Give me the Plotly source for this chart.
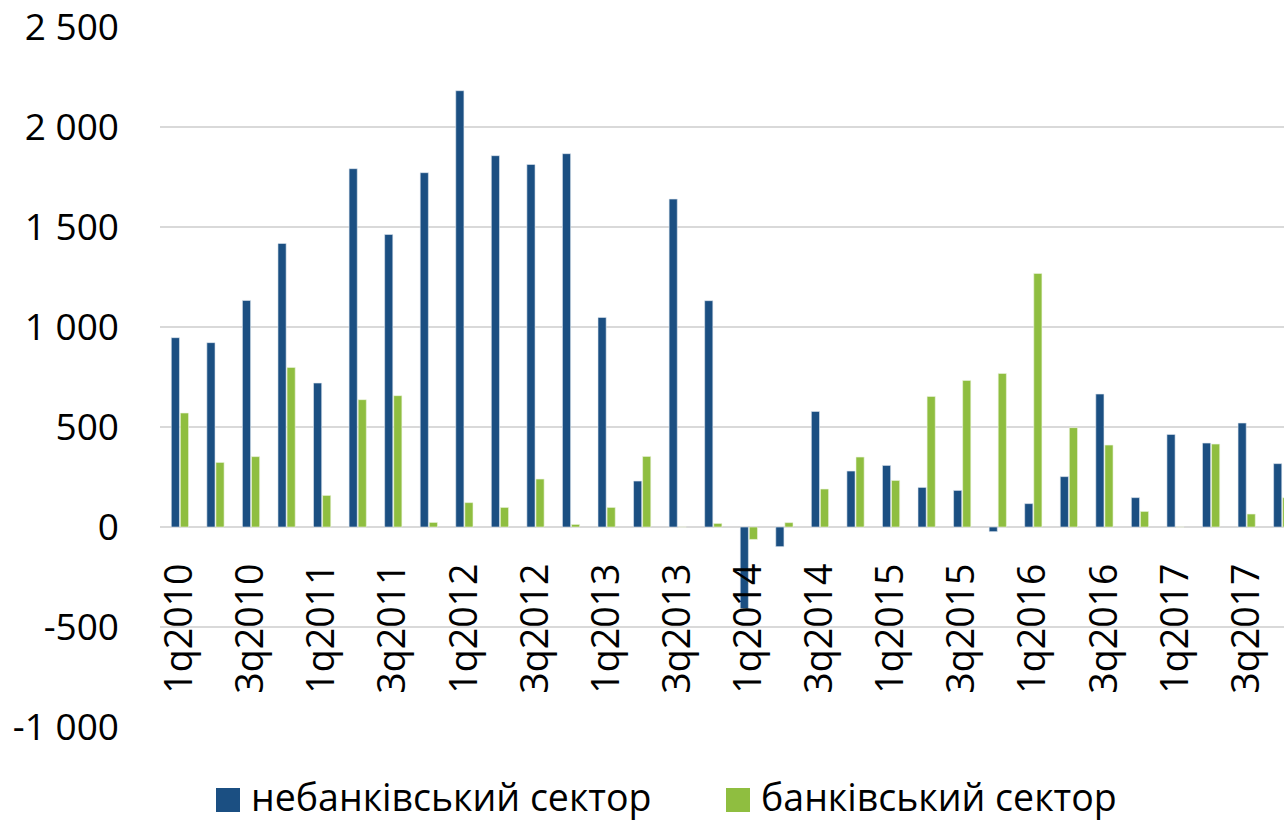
import plotly.graph_objects as go

categories = [
    "1q2010", "2q2010", "3q2010", "4q2010",
    "1q2011", "2q2011", "3q2011", "4q2011",
    "1q2012", "2q2012", "3q2012", "4q2012",
    "1q2013", "2q2013", "3q2013", "4q2013",
    "1q2014", "2q2014", "3q2014", "4q2014",
    "1q2015", "2q2015", "3q2015", "4q2015",
    "1q2016", "2q2016", "3q2016", "4q2016",
    "1q2017", "2q2017", "3q2017", "4q2017",
]
nonbank = [947, 922, 1133, 1418, 720, 1792, 1463, 1772,
           2182, 1857, 1813, 1867, 1048, 230, 1640, 1132,
           -408, -98, 578, 280, 308, 198, 183, -23,
           117, 252, 665, 147, 463, 420, 520, 317]
bank = [570, 323, 352, 798, 158, 637, 657, 23,
        122, 98, 240, 13, 98, 353, 0, 18,
        -62, 22, 190, 350, 233, 653, 733, 768,
        1268, 497, 410, 78, 0, 415, 65, 147]

series_names = ["небанківський сектор", "банківський сектор"]
y_tickvals = [-1000, -500, 0, 500, 1000, 1500, 2000, 2500]
y_ticktext = ["-1 000", "-500", "0", "500", "1 000", "1 500", "2 000", "2 500"]
x_tickvals = categories[::2]

BLUE = "#1b4f82"
GREEN = "#8fbe40"
FONT = "Open Sans"

W, H = 1284, 821
L, R, T, B = 160, 0, 27, 94
PW, PH = W - L - R, H - T - B


def px_x(px):
    return (px - L) / PW


def px_y(py):
    return (H - B - py) / PH


fig = go.Figure()
fig.add_trace(go.Bar(x=categories, y=nonbank, name=series_names[0], showlegend=False,
                     marker=dict(color=BLUE, line=dict(color="#dfe8f0", width=0.6))))
fig.add_trace(go.Bar(x=categories, y=bank, name=series_names[1], showlegend=False,
                     marker=dict(color=GREEN, line=dict(color="#eef5e0", width=0.6))))

ymin, ymax = -1000, 2500
zero_pos = (0 - ymin) / (ymax - ymin)

# custom legend (squares + labels) below the plot
legend_items = [(series_names[0], BLUE, 216), (series_names[1], GREEN, 726)]
shapes = []
annotations = []
for name, color, sx in legend_items:
    shapes.append(dict(type="rect", xref="paper", yref="paper",
                       x0=px_x(sx), x1=px_x(sx + 24), y0=px_y(812), y1=px_y(788),
                       fillcolor=color, line=dict(width=0)))
    annotations.append(dict(text=name, xref="paper", yref="paper",
                            x=px_x(sx + 33), y=px_y(796), xanchor="left", yanchor="middle",
                            showarrow=False,
                            font=dict(family=FONT, size=37.5, color="black")))

fig.update_layout(
    width=W, height=H,
    margin=dict(l=L, r=R, t=T, b=B, autoexpand=False),
    paper_bgcolor="white", plot_bgcolor="white",
    barmode="group", bargap=0.49, bargroupgap=0.1,
    font=dict(family=FONT, size=37, color="black"),
    showlegend=False,
    shapes=shapes,
    annotations=annotations,
    xaxis=dict(
        type="category", range=[-0.56, 31.05],
        anchor="free", position=zero_pos,
        tickmode="array", tickvals=x_tickvals, ticktext=x_tickvals,
        tickangle=-90, showgrid=False, showline=False, ticks="",
        ticklabelstandoff=28,
        tickfont=dict(family=FONT, size=37.5, color="black"),
    ),
    yaxis=dict(
        range=[ymin, ymax + 0.5], tickmode="array", tickvals=y_tickvals, ticktext=y_ticktext,
        showgrid=True, gridcolor="#d9d9d9", gridwidth=1.5,
        zeroline=True, zerolinecolor="#d9d9d9", zerolinewidth=2,
        showline=False, ticks="", ticklabelstandoff=40,
        tickfont=dict(family=FONT, size=37, color="black"),
    ),
)

fig.write_html("out.html", config={"displayModeBar": False},
               post_script="document.body.style.margin='0';document.body.style.overflow='hidden';")
